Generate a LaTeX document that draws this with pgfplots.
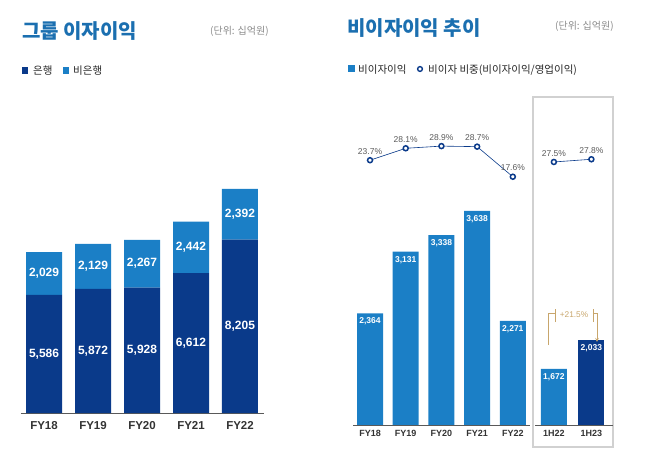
\documentclass[border=0pt]{standalone}
\usepackage{pgfplots}
\pgfplotsset{compat=1.18}
\usetikzlibrary{arrows.meta}
\usepackage{fontspec}
\setmainfont{Liberation Sans}
\newfontfamily\kr{Noto Sans CJK KR}
\definecolor{lb}{HTML}{1B7FC6}
\definecolor{nv}{HTML}{0A3A8A}
\definecolor{tb}{HTML}{1B6FB0}
\definecolor{gt}{HTML}{8A8A8A}
\definecolor{dt}{HTML}{5A5A5A}
\definecolor{tk}{HTML}{333333}
\definecolor{tn}{HTML}{C8A66C}
\begin{document}
\begin{tikzpicture}[x=1pt,y=1pt]
\useasboundingbox (0,0) rectangle (658,461);
% titles
\node[anchor=base west, inner sep=0, text=tb, font=\kr\bfseries\fontsize{20}{24}\selectfont] at (22,422) {그룹 이자이익};
\node[anchor=base west, inner sep=0, text=gt, font=\kr\fontsize{10}{12}\selectfont] at (210,426) {(단위: 십억원)};
\node[anchor=base west, inner sep=0, text=tb, font=\kr\bfseries\fontsize{20}{24}\selectfont] at (347,425) {비이자이익 추이};
\node[anchor=base west, inner sep=0, text=gt, font=\kr\fontsize{10}{12}\selectfont] at (555,431) {(단위: 십억원)};
% legends
\fill[nv] (22,387) rectangle (28,394);
\node[anchor=base west, inner sep=0, text=black!85, font=\kr\fontsize{10.5}{12}\selectfont] at (33,386) {은행};
\fill[lb] (63,387) rectangle (69,394);
\node[anchor=base west, inner sep=0, text=black!85, font=\kr\fontsize{10.5}{12}\selectfont] at (73,386) {비은행};
\fill[lb] (348,389) rectangle (355,396);
\node[anchor=base west, inner sep=0, text=black!85, font=\kr\fontsize{10.5}{12}\selectfont] at (358,387) {비이자이익};
\draw[nv, line width=1.4pt, fill=white] (420,392) circle (2.4);
\node[anchor=base west, inner sep=0, text=black!85, font=\kr\fontsize{10.5}{12}\selectfont] at (428,387) {비이자 비중(비이자이익/영업이익)};
% box
\draw[black!18, line width=1.2pt] (533,14) rectangle (613,364);

% left chart
\begin{axis}[at={(21pt,48pt)}, anchor=south west, scale only axis,
  width=243pt, height=243.1pt,
  xmin=-0.47, xmax=4.49, ymin=0, ymax=11500,
  axis x line*=bottom, hide y axis,
  axis line style={draw=black!65, line width=0.8pt},
  major tick length=0pt,
  xtick={0,1,2,3,4}, xticklabels={FY18,FY19,FY20,FY21,FY22},
  xticklabel style={font=\bfseries\fontsize{11.5}{13}\selectfont, text=tk, yshift=-5pt},
  ybar stacked, bar width=36pt]
\addplot[fill=nv, draw=none, nodes near coords, point meta=explicit symbolic,
  every node near coord/.append style={anchor=center, text=white, font=\bfseries\fontsize{12}{14}\selectfont}]
  coordinates {(0,5586)[5,586] (1,5872)[5,872] (2,5928)[5,928] (3,6612)[6,612] (4,8205)[8,205]};
\addplot[fill=lb, draw=none, nodes near coords, point meta=explicit symbolic,
  every node near coord/.append style={anchor=center, text=white, font=\bfseries\fontsize{12}{14}\selectfont}]
  coordinates {(0,2029)[2,029] (1,2129)[2,129] (2,2267)[2,267] (3,2442)[2,442] (4,2392)[2,392]};
\addplot[fill=none, draw=none, nodes near coords, point meta=explicit symbolic,
  every node near coord/.append style={anchor=south, text=dt, font=\fontsize{12}{14}\selectfont, yshift=1pt}]
  coordinates {(0,0)[7,615] (1,0)[8,001] (2,0)[8,194] (3,0)[9,053] (4,0)[10,597]};
\end{axis}

% right chart bars
\begin{axis}[at={(348.6pt,36pt)}, anchor=south west, scale only axis,
  width=267.75pt, height=323.6pt,
  xmin=-0.6, xmax=6.9, ymin=975, ymax=5000,
  axis x line*=bottom, hide y axis,
  axis line style={draw=none},
  major tick length=0pt,
  xtick={0,1,2,3,4,5.15,6.2}, xticklabels={FY18,FY19,FY20,FY21,FY22,1H22,1H23},
  xticklabel style={font=\bfseries\fontsize{9}{11}\selectfont, text=tk, yshift=-1.5pt},
  ybar, bar width=26pt, bar shift=0pt]
\addplot[fill=lb, draw=none, nodes near coords, point meta=explicit symbolic,
  every node near coord/.append style={anchor=north, text=white, font=\bfseries\fontsize{8.5}{10}\selectfont, yshift=-1pt}]
  coordinates {(0,2364)[2,364] (1,3131)[3,131] (2,3338)[3,338] (3,3638)[3,638] (4,2271)[2,271] (5.15,1672)[1,672]};
\addplot[fill=nv, draw=none, nodes near coords, point meta=explicit symbolic,
  every node near coord/.append style={anchor=north, text=white, font=\bfseries\fontsize{8.5}{10}\selectfont, yshift=-1pt}]
  coordinates {(6.2,2033)[2,033]};
\end{axis}

% percentage line FY
\begin{axis}[at={(348.6pt,36pt)}, anchor=south west, scale only axis,
  width=267.75pt, height=323.6pt,
  xmin=-0.6, xmax=6.9, ymin=-74.0, ymax=45.4,
  hide x axis, hide y axis, clip=false]
\addplot[nv, line width=0.6pt, mark=*, mark size=2.5pt,
  mark options={fill=white, draw=nv, line width=1.5pt},
  nodes near coords, point meta=explicit symbolic,
  every node near coord/.append style={anchor=south, text=dt, font=\fontsize{8.5}{10}\selectfont, inner sep=1pt, yshift=4pt}]
  coordinates {(0,23.7)[23.7\%] (1,28.1)[28.1\%] (2,28.9)[28.9\%] (3,28.7)[28.7\%] (4,17.6)[17.6\%]};
\end{axis}

% percentage line 1H
\begin{axis}[at={(348.6pt,36pt)}, anchor=south west, scale only axis,
  width=267.75pt, height=323.6pt,
  xmin=-0.6, xmax=6.9, ymin=-1.72, ymax=34.23,
  hide x axis, hide y axis, clip=false]
\addplot[nv, line width=0.6pt, mark=*, mark size=2.5pt,
  mark options={fill=white, draw=nv, line width=1.5pt},
  nodes near coords, point meta=explicit symbolic,
  every node near coord/.append style={anchor=south, text=dt, font=\fontsize{8.5}{10}\selectfont, inner sep=1pt, yshift=4pt}]
  coordinates {(5.15,27.5)[27.5\%] (6.2,27.8)[27.8\%]};
\end{axis}

% baselines right
\draw[black!65, line width=0.8pt] (353,36) -- (530,36);
\draw[black!65, line width=0.8pt] (535,36) -- (613,36);
% annotation
\draw[tn, line width=0.7pt] (548,116) -- (548,148) -- (555,148);
\draw[tn, line width=0.7pt] (555,139) -- (555,152);
\draw[tn, line width=0.7pt] (593,139) -- (593,152);
\draw[tn, line width=0.7pt, -{Stealth[length=4pt,width=3.5pt]}] (593,148) -- (597,148) -- (597,119);
\node[text=tn, font=\fontsize{8.3}{10}\selectfont, inner sep=0] at (574,146) {+21.5\%};
\end{tikzpicture}
\end{document}
